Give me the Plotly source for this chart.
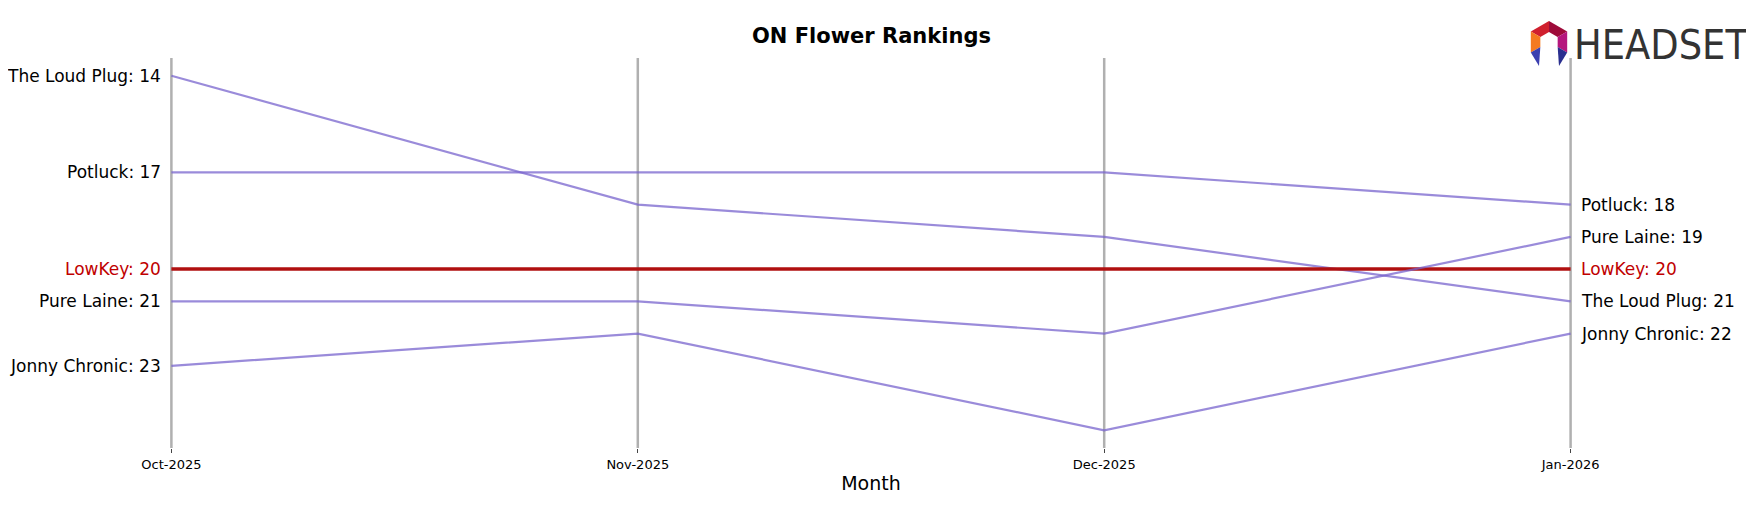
import math
import plotly.graph_objects as go

months = ["Oct-2025", "Nov-2025", "Dec-2025", "Jan-2026"]
brands = ["The Loud Plug", "Potluck", "LowKey", "Pure Laine", "Jonny Chronic"]
ranks = {
    "The Loud Plug": [14, 18, 19, 21],
    "Potluck": [17, 17, 17, 18],
    "LowKey": [20, 20, 20, 20],
    "Pure Laine": [21, 21, 22, 19],
    "Jonny Chronic": [23, 22, 25, 22],
}
highlight = "LowKey"

W, H = 1754, 507
L, R, T, B = 162, 190, 50, 67
PW, PH = W - L - R, H - T - B


def px(x, y):
    return (x - L) / PW, (H - B - y) / PH


fig = go.Figure()
ann = []
shapes = []
for i, m in enumerate(months):
    shapes.append(dict(type="line", xref="x", yref="paper", x0=i, x1=i, y0=0, y1=1,
                       line=dict(color="#b0b0b0", width=2.5), layer="below"))
for b in brands:
    hl = b == highlight
    col = "#b01010" if hl else "rgba(120,100,205,0.75)"
    fig.add_trace(go.Scatter(x=list(range(len(months))), y=ranks[b], mode="lines",
                             line=dict(color=col, width=3.5 if hl else 2.2),
                             showlegend=False, cliponaxis=False))
    tc = "#c00000" if hl else "black"
    ann.append(dict(x=0, y=ranks[b][0], text=f"{b}: {ranks[b][0]}", xanchor="right",
                    xshift=-8, showarrow=False, font=dict(size=17, color=tc)))
    ann.append(dict(x=3, y=ranks[b][-1], text=f"{b}: {ranks[b][-1]}", xanchor="left",
                    xshift=8, showarrow=False, font=dict(size=17, color=tc)))

ann.append(dict(xref="paper", yref="paper", x=0.5, y=1, yshift=8, text="<b>ON Flower Rankings</b>",
                showarrow=False, font=dict(size=21, color="black"), xanchor="center", yanchor="bottom"))
lx, ly = px(1742, 37)
ann.append(dict(xref="paper", yref="paper", x=lx, y=ly, text="HEADSET", showarrow=False,
                font=dict(size=41, color="#333333", family="DejaVu Sans Condensed"),
                xanchor="right", yanchor="middle"))

# logo icon
cx, cy, ro, ri = 1541, 34, 21, 10


def pt(r, a):
    return px(cx + r * math.cos(math.radians(a)), cy - r * math.sin(math.radians(a)))


def poly(pts, color):
    d = "M " + " L ".join(f"{x},{y}" for x, y in pts) + " Z"
    shapes.append(dict(type="path", xref="paper", yref="paper", path=d,
                       fillcolor=color, line=dict(width=0)))


segs = [(90, 150, "#d0202e"), (30, 90, "#9e0b3a"), (-30, 30, "#b5177d"), (150, 210, "#f47a20")]
for a0, a1, c in segs:
    poly([pt(ro, a0), pt(ro, a1), pt(ri, a1), pt(ri, a0)], c)
poly([pt(ro, 210), pt(ri, 210), px(cx - 10, 58)], "#3b3fb0")
poly([pt(ro, -30), pt(ri, -30), px(cx + 10, 58)], "#2a2f8f")

fig.update_layout(
    width=W, height=H, plot_bgcolor="white", paper_bgcolor="white",
    margin=dict(l=L, r=R, t=T, b=B),
    font=dict(family="DejaVu Sans", color="black"),
    annotations=ann, shapes=shapes,
    xaxis=dict(range=[-0.003, 3.003], tickmode="array", tickvals=list(range(len(months))), ticktext=months,
               showgrid=False, ticks="outside", ticklen=4, tickfont=dict(size=13), zeroline=False,
               title=dict(text="Month", font=dict(size=19), standoff=6)),
    yaxis=dict(range=[25.55, 13.45], visible=False, showgrid=False, zeroline=False),
)
fig.write_html("out.html")
